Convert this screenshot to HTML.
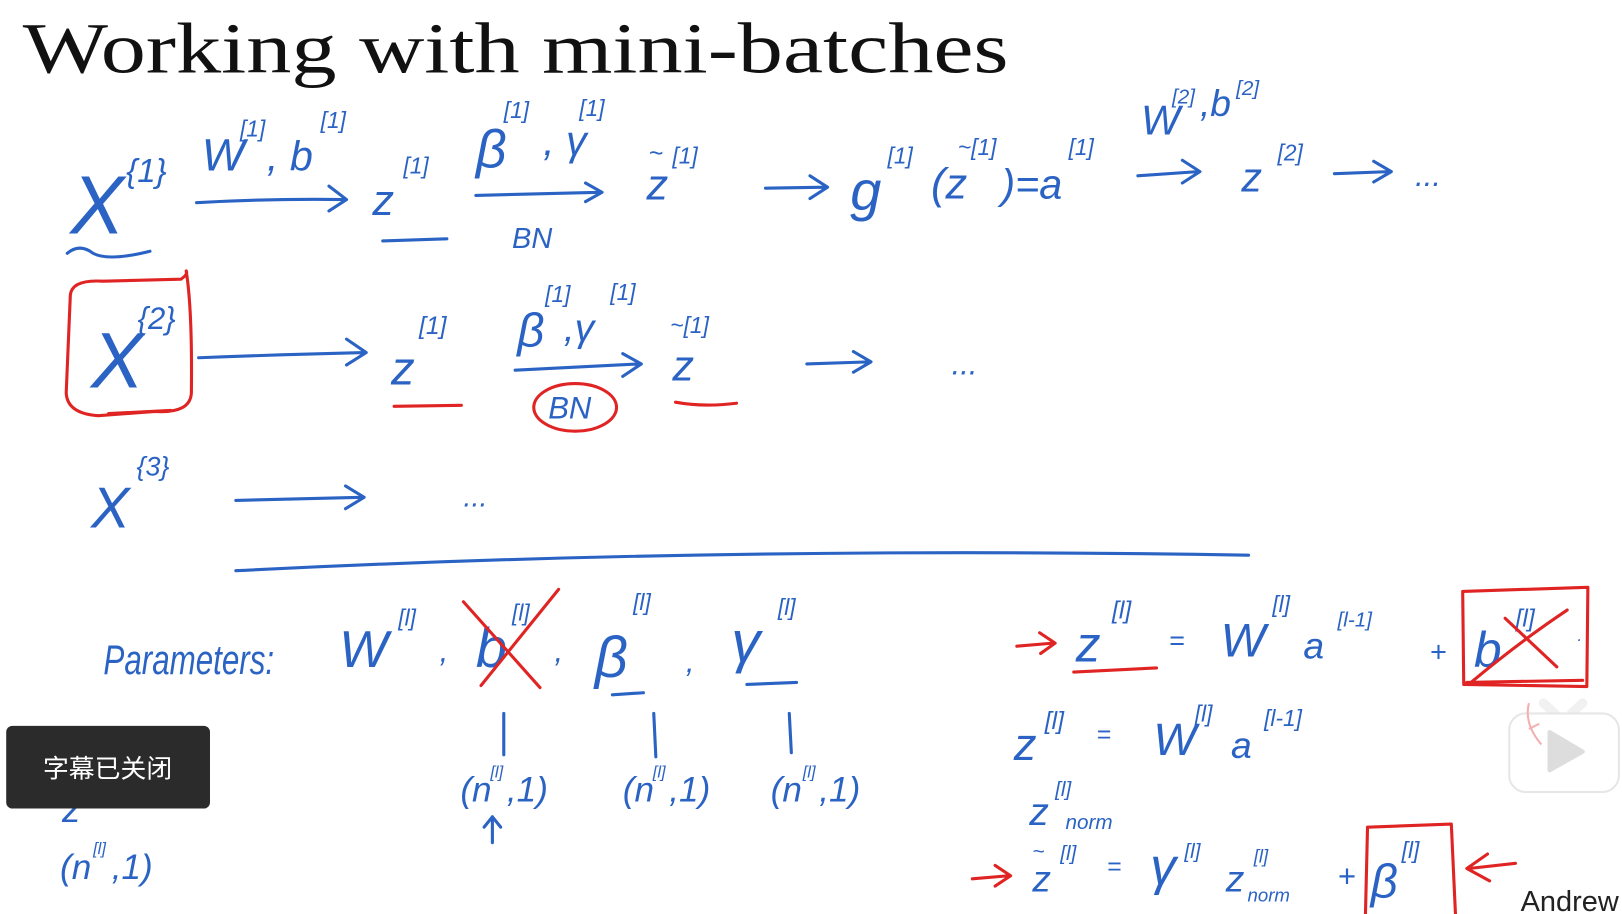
<!DOCTYPE html>
<html><head><meta charset="utf-8"><style>
html,body{margin:0;padding:0;background:#fff;}
svg{display:block;}
.h{font-family:"Liberation Sans",sans-serif;font-style:italic;fill:#2a63c4;}
.s{stroke:#2a63c4;stroke-width:3;fill:none;stroke-linecap:round;stroke-linejoin:round;}
.r{stroke:#e02424;stroke-width:3;fill:none;stroke-linecap:round;stroke-linejoin:round;}
</style></head><body>
<svg width="1622" height="914" viewBox="0 0 1568 884" preserveAspectRatio="none" xmlns="http://www.w3.org/2000/svg">
<rect width="1568" height="884" fill="#fff"/>
<text x="22" y="70" font-family="Liberation Serif, serif" font-size="70" fill="#111" textLength="953" lengthAdjust="spacingAndGlyphs">Working with mini-batches</text>

<!-- Row 1 -->
<text class="h" x="68" y="226" font-size="80" textLength="52" lengthAdjust="spacingAndGlyphs">X</text>
<text class="h" x="122" y="176" font-size="32">{1}</text>
<path class="s" d="M65 245 q12-10 25 0 q15 8 55 -2"/>
<text class="h" x="195" y="165" font-size="44">W</text><text class="h" x="232" y="132" font-size="22">[1]</text>
<text class="h" x="258" y="165" font-size="40">, b</text><text class="h" x="310" y="124" font-size="22">[1]</text>
<path class="s" d="M190 196 Q260 192 333 193 M318 180 L335 193 L318 204"/>
<text class="h" x="360" y="208" font-size="42">z</text><text class="h" x="390" y="168" font-size="22">[1]</text>
<path class="s" d="M370 233 L432 231"/>
<text class="h" x="460" y="162" font-size="52">β</text><text class="h" x="487" y="114" font-size="22">[1]</text>
<text class="h" x="525" y="150" font-size="40">, γ</text><text class="h" x="560" y="112" font-size="22">[1]</text>
<path class="s" d="M460 189 L580 186 M566 177 L582 186 L566 195"/>
<text class="h" x="495" y="240" font-size="28">BN</text>
<text class="h" x="625" y="193" font-size="42">z</text><text class="h" x="627" y="156" font-size="24">~</text><text class="h" x="650" y="158" font-size="22">[1]</text>
<path class="s" d="M740 182 L798 181 M783 170 L800 181 L783 192"/>
<text class="h" x="822" y="203" font-size="54">g</text><text class="h" x="858" y="158" font-size="22">[1]</text>
<text class="h" x="900" y="192" font-size="42">(z</text><text class="h" x="926" y="150" font-size="22">~[1]</text>
<text class="h" x="968" y="192" font-size="40">)=a</text><text class="h" x="1033" y="150" font-size="22">[1]</text>
<path class="s" d="M1100 170 L1158 166 M1143 155 L1160 166 L1143 177"/>
<text class="h" x="1103" y="130" font-size="40">W</text><text class="h" x="1133" y="100" font-size="20">[2]</text>
<text class="h" x="1160" y="112" font-size="36">,b</text><text class="h" x="1195" y="92" font-size="20">[2]</text>
<text class="h" x="1200" y="185" font-size="40">z</text><text class="h" x="1235" y="155" font-size="22">[2]</text>
<path class="s" d="M1290 168 L1343 166 M1328 156 L1345 166 L1328 176"/>
<text class="h" x="1368" y="180" font-size="30">...</text>

<!-- Row 2 -->
<path class="r" d="M68 285 Q70 270 100 272 L175 270 Q182 265 180 262 Q186 300 185 380 Q184 400 150 398 L95 402 Q65 400 64 380 Z"/>
<path class="r" d="M105 400 L165 397"/>
<text class="h" x="88" y="375" font-size="76">X</text>
<text class="h" x="133" y="318" font-size="30">{2}</text>
<path class="s" d="M192 346 Q270 343 352 341 M335 328 L354 341 L335 353"/>
<text class="h" x="378" y="372" font-size="46">z</text><text class="h" x="405" y="323" font-size="24">[1]</text>
<path class="r" d="M381 393 L446 392"/>
<text class="h" x="500" y="335" font-size="46">β</text><text class="h" x="527" y="292" font-size="22">[1]</text>
<text class="h" x="545" y="330" font-size="38">,γ</text><text class="h" x="590" y="290" font-size="22">[1]</text>
<path class="s" d="M498 358 L618 352 M602 342 L620 352 L602 364"/>
<ellipse class="r" cx="556" cy="394" rx="40" ry="23"/>
<text class="h" x="530" y="405" font-size="30">BN</text>
<text class="h" x="650" y="368" font-size="42">z</text><text class="h" x="648" y="322" font-size="22">~[1]</text>
<path class="r" d="M653 389 Q680 394 712 390"/>
<path class="s" d="M780 352 L840 350 M825 340 L842 350 L825 360"/>
<text class="h" x="920" y="362" font-size="30">...</text>

<!-- Row 3 -->
<text class="h" x="88" y="510" font-size="56">X</text><text class="h" x="132" y="460" font-size="26">{3}</text>
<path class="s" d="M228 484 L350 481 M334 470 L352 481 L334 492"/>
<text class="h" x="448" y="490" font-size="28">...</text>

<path class="s" d="M228 552 Q700 528 1207 537"/>

<!-- Parameters -->
<text class="h" x="100" y="652" font-size="40" textLength="165" lengthAdjust="spacingAndGlyphs">Parameters:</text>
<text class="h" x="328" y="645" font-size="50">W</text><text class="h" x="385" y="605" font-size="22">[l]</text>
<text class="h" x="425" y="640" font-size="30">,</text>
<text class="h" x="460" y="645" font-size="54">b</text><text class="h" x="495" y="600" font-size="22">[l]</text>
<path class="r" d="M448 582 L522 665 M540 570 L465 663"/>
<text class="h" x="536" y="640" font-size="30">,</text>
<text class="h" x="575" y="655" font-size="56">β</text><text class="h" x="612" y="590" font-size="22">[l]</text>
<path class="s" d="M592 672 L622 670"/>
<text class="h" x="663" y="650" font-size="30">,</text>
<text class="h" x="707" y="640" font-size="56">γ</text><text class="h" x="752" y="595" font-size="22">[l]</text>
<path class="s" d="M722 662 L770 660"/>
<path class="s" d="M487 690 L487 730 M632 690 L634 732 M763 690 L765 728"/>
<text class="h" x="445" y="775" font-size="34">(n</text><text class="h" x="474" y="752" font-size="16">[l]</text><text class="h" x="490" y="775" font-size="34">,1)</text>
<text class="h" x="602" y="775" font-size="34">(n</text><text class="h" x="631" y="752" font-size="16">[l]</text><text class="h" x="647" y="775" font-size="34">,1)</text>
<text class="h" x="745" y="775" font-size="34">(n</text><text class="h" x="776" y="752" font-size="16">[l]</text><text class="h" x="792" y="775" font-size="34">,1)</text>
<path class="s" d="M476 815 L476 790 M468 800 L476 790 L484 800"/>

<!-- right equations -->
<path class="r" d="M983 625 L1018 622 M1005 612 L1020 622 L1006 632"/>
<text class="h" x="1040" y="640" font-size="48">z</text><text class="h" x="1075" y="598" font-size="24">[l]</text>
<path class="r" d="M1038 650 L1118 646"/>
<text class="h" x="1130" y="628" font-size="26">=</text>
<text class="h" x="1180" y="635" font-size="46">W</text><text class="h" x="1230" y="592" font-size="22">[l]</text>
<text class="h" x="1260" y="637" font-size="36">a</text><text class="h" x="1293" y="606" font-size="20">[l-1]</text>
<text class="h" x="1382" y="640" font-size="28">+</text>
<path class="r" d="M1414 572 L1535 568 L1534 664 L1415 662 Z M1418 660 L1530 658"/>
<text class="h" x="1425" y="645" font-size="48">b</text><text class="h" x="1465" y="606" font-size="24">[l]</text>
<path class="r" d="M1422 660 Q1470 620 1515 590 M1455 598 L1505 645"/>
<text class="h" x="1525" y="620" font-size="16">.</text>

<text class="h" x="980" y="735" font-size="44">z</text><text class="h" x="1010" y="705" font-size="24">[l]</text>
<text class="h" x="1060" y="718" font-size="24">=</text>
<text class="h" x="1115" y="730" font-size="44">W</text><text class="h" x="1155" y="698" font-size="22">[l]</text>
<text class="h" x="1190" y="733" font-size="36">a</text><text class="h" x="1222" y="702" font-size="22">[l-1]</text>

<text class="h" x="995" y="798" font-size="38">z</text><text class="h" x="1020" y="770" font-size="20">[l]</text><text class="h" x="1030" y="802" font-size="20">norm</text>

<path class="r" d="M940 850 L975 847 M962 837 L977 847 L962 857"/>
<text class="h" x="998" y="862" font-size="36">z</text><text class="h" x="998" y="830" font-size="20">~</text><text class="h" x="1025" y="832" font-size="20">[l]</text>
<text class="h" x="1070" y="846" font-size="24">=</text>
<text class="h" x="1112" y="855" font-size="50">γ</text><text class="h" x="1145" y="830" font-size="20">[l]</text>
<text class="h" x="1185" y="862" font-size="36">z</text><text class="h" x="1212" y="834" font-size="18">[l]</text><text class="h" x="1206" y="872" font-size="18">norm</text>
<text class="h" x="1293" y="858" font-size="30">+</text>
<path class="r" d="M1322 800 L1403 797 L1407 884 M1322 800 L1320 884"/>
<text class="h" x="1325" y="868" font-size="46">β</text><text class="h" x="1355" y="830" font-size="22">[l]</text>
<path class="r" d="M1465 835 L1420 840 M1438 826 L1418 840 L1440 852"/>

<text x="1470" y="881" font-family="Liberation Sans, sans-serif" font-size="28" fill="#222">Andrew</text>

<!-- behind subtitle -->
<text class="h" x="60" y="795" font-size="36">z</text>
<text class="h" x="58" y="850" font-size="34">(n</text><text class="h" x="90" y="826" font-size="16">[l]</text><text class="h" x="108" y="850" font-size="34">,1)</text>

<!-- subtitle box -->
<rect x="6" y="702" width="197" height="80" rx="6" fill="#2b2b2b"/>
<text x="104" y="752" text-anchor="middle" font-family="Liberation Sans, 'Noto Sans CJK SC', sans-serif" font-size="25" fill="#fff">字幕已关闭</text>

<!-- play icon -->
<path d="M1492 680 L1503 690 M1530 680 L1519 690" stroke="#f1f1f1" stroke-width="9" stroke-linecap="round"/>
<rect x="1459" y="690" width="106" height="76" rx="16" fill="#fff" stroke="#e6e6e6" stroke-width="2"/>
<path d="M1498 708 L1530 727 L1498 745 Z" fill="#ddd" stroke="#ddd" stroke-width="4" stroke-linejoin="round"/>
<path d="M1478 705 L1488 700" stroke="#f3b0b0" stroke-width="2" fill="none"/>
<path d="M1478 680 Q1473 700 1490 720" stroke="#f3b0b0" stroke-width="2" fill="none"/>
</svg>
</body></html>
